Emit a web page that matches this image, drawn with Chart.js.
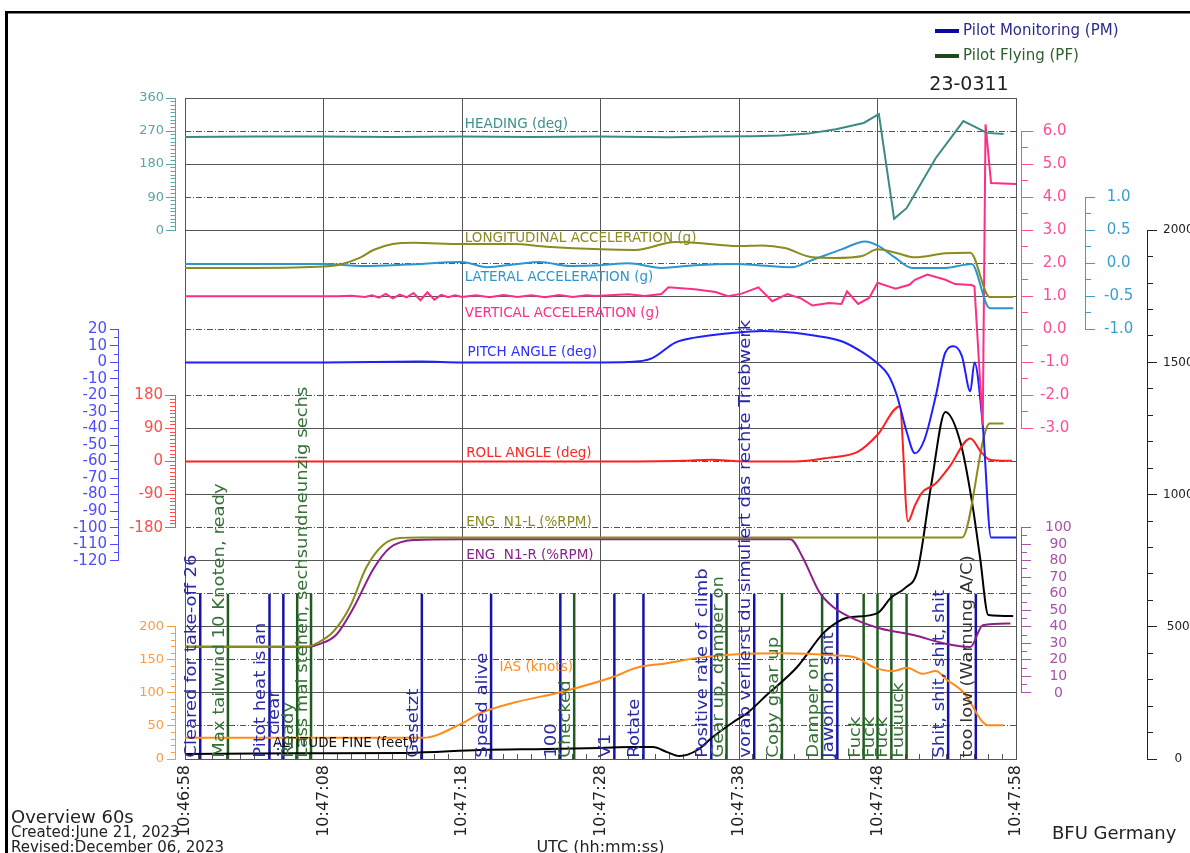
<!DOCTYPE html>
<html>
<head>
<meta charset="utf-8">
<title>Overview 60s - 23-0311</title>
<script src="https://cdn.jsdelivr.net/npm/chart.js@4.4.1/dist/chart.umd.min.js"></script>
<style>
  html, body { margin: 0; padding: 0; background: #fff; }
  #box { width: 1190px; height: 853px; }
</style>
</head>
<body>
<div id="box"><canvas id="flight" width="1190" height="853"></canvas></div>
<script>
const FONT = "'DejaVu Sans', Verdana, sans-serif";

// Time axis, seconds after 10:46:58 UTC
const timeLabels = ['10:46:58', '10:47:08', '10:47:18', '10:47:28', '10:47:38', '10:47:48', '10:47:58'];

// HEADING (deg)
const hdgT = [0, 5, 10, 15, 20, 25, 30, 35, 38, 41, 43, 45, 47, 49, 50.1, 51.2, 52.1, 54.2, 56.2, 57.9, 59.1];
const hdgV = [254, 255, 255, 254, 255, 254, 255, 253, 255, 256, 258, 263, 275, 292, 316, 31, 60, 196, 297, 265, 262];

// LONGITUDINAL ACCELERATION (g)
const lonT = [0, 5, 10, 11.2, 12.6, 13.6, 15, 16.5, 20, 23.7, 26.1, 30, 32.5, 35.4, 36.8, 39.9, 41.7, 43.3, 45.3, 46.9, 48.9, 50, 51.3, 52.7, 54.9, 56.7, 58.1, 59.8];
const lonV = [-0.07, -0.07, -0.05, -0.02, 0.08, 0.2, 0.29, 0.31, 0.29, 0.29, 0.25, 0.21, 0.2, 0.32, 0.31, 0.26, 0.27, 0.23, 0.09, 0.08, 0.11, 0.21, 0.16, 0.09, 0.15, 0.16, -0.51, -0.51];

// LATERAL ACCELERATION (g)
const latT = [0, 10, 12.9, 16, 20, 21.8, 24, 25.6, 27.8, 30, 32, 34.4, 36.8, 39.9, 41.4, 43.8, 45.3, 47.4, 49.1, 50, 51.3, 52.5, 54.9, 56.8, 58.1, 59.8];
const latV = [-0.01, -0.01, -0.04, -0.02, 0.02, -0.06, -0.01, 0.02, -0.04, -0.03, 0.0, -0.07, -0.03, -0.01, -0.03, -0.06, 0.05, 0.21, 0.33, 0.27, 0.08, -0.07, -0.07, -0.01, -0.68, -0.68];

// VERTICAL ACCELERATION (g)
const vacT = [0, 11, 12, 13, 13.5, 14, 14.5, 15, 15.5, 16, 16.5, 17, 17.5, 18, 18.5, 19, 19.5, 20, 21, 22, 23, 24, 25, 26, 27, 28, 29,
  29.6, 32, 33.2, 34.4, 34.9, 36.8, 38.3, 39.2, 40.2, 41.4, 42.4, 43.5, 44.5, 45.3, 46.5, 47.4, 47.8, 48.6, 49.4, 50, 50.8, 51.3,
  52.3, 52.7, 53.6, 54.9, 55.6, 56.8, 57.0, 57.6, 57.8, 58.2, 60];
const vacV = [1.0, 1.0, 1.02, 0.98, 1.03, 0.96, 1.07, 0.94, 1.05, 0.97, 1.1, 0.88, 1.12, 0.9, 1.04, 0.97, 1.03, 0.98, 1.03, 0.97, 1.04, 0.98, 1.03, 0.97, 1.04, 0.98, 1.03,
  1.01, 1.06, 1.01, 1.07, 1.27, 1.21, 1.13, 1.0, 1.08, 1.27, 0.85, 1.07, 0.93, 0.72, 0.8, 0.77, 1.15, 0.77, 0.95, 1.41, 1.3, 1.23,
  1.35, 1.5, 1.66, 1.5, 1.37, 1.34, 1.3, -2.9, 6.2, 4.43, 4.4];

// PITCH ANGLE (deg)
const pitT = [0, 10, 17, 20, 30, 32, 33.7, 35.4, 36.8, 39.7, 41.7, 44, 45.3, 47.4, 48.9, 50, 50.8, 51.4, 52.1, 52.7, 53.4, 54.2, 54.9, 55.5, 56.1, 56.7, 57.0, 57.6, 58.2, 60];
const pitV = [0, 0, 0.5, 0, 0, 0.2, 2.4, 12, 15, 18, 19, 18, 16.4, 12.8, 6.2, -0.6, -8, -20, -41.8, -55, -46.5, -20.6, 6, 9.7, 3.7, -17.5, 0, -38, -106, -106];

// ROLL ANGLE (deg)
const rolT = [0, 10, 20, 30, 36, 38, 40, 44, 46.4, 48.6, 50, 51.6, 52.2, 52.7, 53.2, 54.2, 55.2, 56.7, 57.5, 58.1, 59.7];
const rolV = [0, 0, 0, 0, 2, 5, 1, 0, 10, 27, 73, 150, -163, -120, -85, -60, -14, 63, 25, 5, 2];

// ENG N1-L / N1-R (%RPM)
const n1lT = [0, 8.8, 9.5, 10.7, 11.9, 13.1, 14.3, 15.5, 17, 30, 43, 50, 56.1, 58.1, 59.1];
const n1lV = [28, 28, 30, 37, 52, 76, 89.5, 93.7, 94, 94, 94, 94, 94, 163, 163];
const n1rT = [0, 9.0, 9.7, 10.9, 12.2, 13.6, 14.8, 16.5, 20, 30, 43.7, 44.6, 45.8, 46.8, 48.5, 50.2, 52.6, 55, 56.7, 57.6, 59.6];
const n1rV = [28, 28, 29.5, 35, 52, 75, 87.8, 92.5, 93, 93, 93, 82, 61, 52, 44, 39, 35, 29.6, 27.8, 41, 42];

// IAS (knots)
const iasT = [0, 10, 17.2, 20, 21.3, 23.7, 27.1, 30.9, 32.6, 34.8, 37, 40.1, 43, 46.8, 48.5, 49.7, 51.1, 52.1, 53.3, 54.2, 55, 56.2, 58, 59.1];
const iasV = [32, 32, 32, 54, 69, 85, 101, 124, 138, 145, 153, 159, 160, 157, 153, 139, 133, 138, 129, 133, 120, 101, 51, 51];

// ALTITUDE FINE (feet)
const altT = [0, 8, 16, 21.3, 26.1, 30, 32.3, 33.8, 34.8, 35.7, 37, 38.1, 39.6, 40.6, 42, 44.2, 46.1, 47.1, 47.8, 50, 51, 52, 52.9, 53.9, 54.9, 56, 56.8, 57.4, 58, 59.8];
const altV = [19, 22, 23, 34, 38, 42, 45, 45, 26, 11, 34, 83, 140, 174, 242, 348, 477, 518, 534, 552, 612, 647, 715, 1044, 1312, 1195, 980, 764, 545, 541];

// Cockpit voice callouts
const pmTimes = [1.1, 6.1, 7.1, 17.1, 22.1, 27.1, 31.0, 33.1, 38.0, 41.1, 47.1, 55.1];
const pmTexts = ['Cleared for take-off 26', 'Pitot heat is an', '... clear', 'Gesetzt', 'Speed alive', '100', 'V1', 'Rotate',
  'Positive rate of climb', 'vorab verlierst du simuliert das rechte Triebwerk', 'Jawohl oh shit', 'Shit, shit, shit, shit'];
const pfTimes = [3.1, 8.1, 9.1, 28.1, 39.1, 43.1, 46.0, 49.0, 50.0, 51.0, 52.1];
const pfTexts = ['Max tailwind 10 Knoten, ready', 'Ready', 'Lass mal stehen, sechsundneunzig sechs', 'Checked', 'Gear up, damper on',
  'Copy gear up', 'Damper on', 'Fuck', 'Fuck', 'Fuck', 'Fuuuuck'];
const warnTimes = [57.1];
const warnTexts = ['too low (Warnung A/C)'];

const PM_COLOR = '#1414a8';
const PF_COLOR = '#1f5c1f';

function pts(ts, vs) {
    return ts.map((t, i) => ({ x: t, y: vs[i] }));
}

function series(label, ts, vs, axis, color, smooth) {
    return {
        label: label,
        data: pts(ts, vs),
        yAxisID: axis,
        borderColor: color,
        borderWidth: 2,
        pointRadius: 0,
        fill: false,
        clip: false,
        tension: 0,
        cubicInterpolationMode: smooth ? 'monotone' : 'default'
    };
}

function callout(t, color) {
    // vertical marker from IAS 0 up to the 250 grid line
    return {
        label: 'callout',
        data: [{ x: t, y: 0 }, { x: t, y: 250 }],
        yAxisID: 'ias',
        borderColor: color,
        borderWidth: 2.5,
        pointRadius: 0,
        fill: false,
        clip: false
    };
}

const datasets = [
    series('HEADING', hdgT, hdgV, 'hdg', '#3b8b84', false),
    series('LONGITUDINAL', lonT, lonV, 'lat', '#8b8b1f', true),
    series('LATERAL', latT, latV, 'lat', '#2b97cc', true),
    series('VERTICAL', vacT, vacV, 'vac', '#ff2d84', false),
    series('PITCH', pitT, pitV, 'pit', '#1f1fff', true),
    series('ROLL', rolT, rolV, 'rol', '#ff1f1f', true),
    series('N1-L', n1lT, n1lV, 'n1', '#8b8b1f', true),
    series('N1-R', n1rT, n1rV, 'n1', '#8c1f8c', true),
    series('IAS', iasT, iasV, 'ias', '#ff8c1a', true),
    series('ALTITUDE', altT, altV, 'alt', '#000000', true)
];
pmTimes.forEach(t => datasets.push(callout(t, PM_COLOR)));
pfTimes.forEach(t => datasets.push(callout(t, PF_COLOR)));
warnTimes.forEach(t => datasets.push(callout(t, PM_COLOR)));

/**
 * Blank axis used to reserve space or fill a gap inside a stack
 */
function spacer(pos, width, stack, weight) {
    const o = {
        type: 'linear', axis: 'y', position: pos, display: true,
        ticks: { display: false },
        grid: { display: false, drawTicks: false },
        border: { display: false },
        afterFit: s => { s.width = width; }
    };
    if (stack) {
        o.stack = stack;
        o.stackWeight = weight;
    }
    return o;
}

/**
 * Partial value axis with long major and short minor tick marks
 */
function valueAxis(o) {
    const isMajor = v => Math.abs(v / o.major - Math.round(v / o.major)) < 1e-6;
    const left = o.pos === 'left';
    const h = o.tick / 2;
    return {
        type: 'linear', axis: 'y', position: o.pos,
        stack: o.stack, stackWeight: o.weight,
        min: o.min, max: o.max,
        ticks: {
            stepSize: o.step,
            autoSkip: false,
            color: o.color,
            padding: o.pad,
            crossAlign: left ? 'near' : 'center',
            font: { family: FONT, size: o.size },
            callback: v => isMajor(v) ? (o.dec ? v.toFixed(o.dec) : String(Math.round(v))) : ''
        },
        grid: {
            display: true,
            drawOnChartArea: false,
            drawTicks: true,
            tickLength: o.tick,
            tickWidth: 1,
            tickColor: o.color,
            tickBorderDash: c => isMajor(c.tick.value) ? [] : (left ? [h, h] : [h, o.tick * 2]),
            tickBorderDashOffset: c => isMajor(c.tick.value) ? 0 : (left ? h : 0)
        },
        border: { display: true, color: o.color, width: 1 },
        afterFit: s => { s.width = o.width; }
    };
}

function gridAxis(even, dash) {
    return {
        type: 'linear', axis: 'y', position: 'right', display: true,
        min: 0, max: 20,
        ticks: { display: false, stepSize: 1, autoSkip: false },
        grid: {
            drawOnChartArea: true,
            drawTicks: false,
            lineWidth: 1,
            color: c => (Math.round(c.tick.value) % 2 === 0) === even ? '#555' : 'rgba(0,0,0,0)'
        },
        border: { display: false, dash: dash },
        afterFit: s => { s.width = 0; }
    };
}

const scales = {
    x: {
        type: 'linear', position: 'bottom', min: 0, max: 60,
        ticks: {
            stepSize: 1, autoSkip: false, minRotation: 90, maxRotation: 90, padding: 11,
            color: '#222', font: { family: FONT, size: 16 },
            callback: v => Math.round(v) % 10 === 0 ? timeLabels[Math.round(v) / 10] : ''
        },
        grid: {
            color: c => Math.round(c.tick.value) % 10 === 0 ? '#555' : 'rgba(0,0,0,0)',
            lineWidth: 1, drawTicks: true, tickLength: -5, tickColor: '#555'
        },
        border: { display: true, color: '#555' },
        title: { display: true, text: 'UTC (hh:mm:ss)', color: '#222', padding: { top: 0, bottom: -3 }, font: { family: FONT, size: 16, lineHeight: 1 } },
        afterFit: s => { s.height = 94; }
    },
    // left side, innermost first (stack members listed bottom to top)
    spL: spacer('left', 10),
    ias: valueAxis({ pos: 'left', stack: 'near', weight: 4, min: 0, max: 200, step: 10, major: 50, color: '#ff9a40', size: 13, tick: 8, pad: 3, width: 57 }),
    fN2: spacer('left', 57, 'near', 3),
    rol: valueAxis({ pos: 'left', stack: 'near', weight: 4, min: -180, max: 180, step: 10, major: 90, color: '#ff4d4d', size: 15, tick: 10, pad: 2, width: 57 }),
    fN1: spacer('left', 57, 'near', 5),
    hdg: valueAxis({ pos: 'left', stack: 'near', weight: 4, min: 0, max: 360, step: 10, major: 90, color: '#5fa3a3', size: 13, tick: 9, pad: 2, width: 57 }),
    fP2: spacer('left', 118, 'far', 6),
    pit: valueAxis({ pos: 'left', stack: 'far', weight: 7, min: -120, max: 20, step: 5, major: 10, color: '#4d4dff', size: 15, tick: 8, pad: 3, width: 118 }),
    fP1: spacer('left', 118, 'far', 7),
    // right side, innermost first (stack members listed top to bottom)
    spR: spacer('right', 5),
    fR1: spacer('right', 64, 'r1', 1),
    vac: valueAxis({ pos: 'right', stack: 'r1', weight: 9, min: -3, max: 6, step: 0.5, major: 1, dec: 1, color: '#ff4d94', size: 15, tick: 12, pad: 7, width: 64 }),
    fR2: spacer('right', 64, 'r1', 3),
    n1: valueAxis({ pos: 'right', stack: 'r1', weight: 5, min: 0, max: 100, step: 5, major: 10, color: '#a852a8', size: 14, tick: 10, pad: 14, width: 64 }),
    fR3: spacer('right', 64, 'r1', 2),
    fR4: spacer('right', 62, 'r2', 3),
    lat: valueAxis({ pos: 'right', stack: 'r2', weight: 4, min: -1, max: 1, step: 0.25, major: 0.5, dec: 1, color: '#3a9fcf', size: 15, tick: 10, pad: 9, width: 62 }),
    fR5: spacer('right', 62, 'r2', 13),
    fR6: spacer('right', 43, 'r3', 4),
    alt: valueAxis({ pos: 'right', stack: 'r3', weight: 16, min: 0, max: 2000, step: 100, major: 500, color: '#222', size: 12, tick: 10, pad: 6, width: 43 }),
    gs: gridAxis(true, []),
    gd: gridAxis(false, [6, 2, 1, 2])
};

// Series captions anchored in data units of their own axis
const captions = [
    { text: 'HEADING (deg)', t: 20.2, v: 289, axis: 'hdg', color: '#3f8f8a' },
    { text: 'LONGITUDINAL ACCELERATION (g)', t: 20.2, v: 0.38, axis: 'lat', color: '#8b8b1f' },
    { text: 'LATERAL ACCELERATION (g)', t: 20.2, v: -0.21, axis: 'lat', color: '#2b97cc' },
    { text: 'VERTICAL ACCELERATION (g)', t: 20.2, v: 0.49, axis: 'vac', color: '#ff2d84' },
    { text: 'PITCH ANGLE (deg)', t: 20.4, v: 5.7, axis: 'pit', color: '#2f2fff' },
    { text: 'ROLL ANGLE (deg)', t: 20.3, v: 23, axis: 'rol', color: '#ff2626' },
    { text: 'ENG  N1-L (%RPM)', t: 20.3, v: 103, axis: 'n1', color: '#8b8b1f' },
    { text: 'ENG  N1-R (%RPM)', t: 20.3, v: 83, axis: 'n1', color: '#8c1f8c' },
    { text: 'IAS (knots)', t: 22.7, v: 137.7, axis: 'ias', color: '#ff8c1a' },
    { text: 'ALTITUDE FINE (feet)', t: 6.35, v: 57, axis: 'alt', color: '#111' }
];

function drawCalloutTexts(chart, times, texts, color) {
    const ctx = chart.ctx;
    const xs = chart.scales.x;
    const y0 = chart.scales.ias.getPixelForValue(2);
    ctx.font = '18px ' + FONT;
    ctx.fillStyle = color;
    ctx.textAlign = 'left';
    ctx.textBaseline = 'alphabetic';
    times.forEach((t, i) => {
        ctx.save();
        ctx.translate(xs.getPixelForValue(t) - 4, y0);
        ctx.rotate(-Math.PI / 2);
        ctx.scale(1, 0.9);
        ctx.fillText(texts[i], 0, 0);
        ctx.restore();
    });
}

const overlay = {
    id: 'overlay',
    afterDatasetsDraw(chart) {
        const ctx = chart.ctx;
        const xs = chart.scales.x;
        ctx.save();
        ctx.font = '13.5px ' + FONT;
        ctx.textAlign = 'left';
        ctx.textBaseline = 'middle';
        captions.forEach(c => {
            ctx.fillStyle = c.color;
            ctx.fillText(c.text, xs.getPixelForValue(c.t), chart.scales[c.axis].getPixelForValue(c.v));
        });
        drawCalloutTexts(chart, pmTimes, pmTexts, '#2a2aa6');
        drawCalloutTexts(chart, pfTimes, pfTexts, '#357035');
        drawCalloutTexts(chart, warnTimes, warnTexts, '#333');
        ctx.restore();
    },
    afterDraw(chart) {
        const ctx = chart.ctx;
        ctx.save();
        // outer frame
        ctx.fillStyle = '#000';
        ctx.fillRect(5, 11, 1185, 2.5);
        ctx.fillRect(5, 11, 3, 842);

        // legend
        ctx.fillStyle = '#0a0aa0';
        ctx.fillRect(935, 29, 24, 4);
        ctx.fillStyle = '#1c4a1c';
        ctx.fillRect(935, 54, 24, 4);
        ctx.font = '15px ' + FONT;
        ctx.textBaseline = 'middle';
        ctx.textAlign = 'left';
        ctx.fillStyle = '#2b2b8f';
        ctx.fillText('Pilot Monitoring (PM)', 963, 31);
        ctx.fillStyle = '#2e5e2e';
        ctx.fillText('Pilot Flying (PF)', 963, 56);

        // flight number
        ctx.fillStyle = '#222';
        ctx.font = '19px ' + FONT;
        ctx.textAlign = 'center';
        ctx.fillText('23-0311', 969, 85);

        // footer
        ctx.textAlign = 'left';
        ctx.font = '18px ' + FONT;
        ctx.fillText('Overview 60s', 11, 818);
        ctx.font = '15px ' + FONT;
        ctx.fillText('Created:June 21, 2023', 11, 833);
        ctx.fillText('Revised:December 06, 2023', 11, 848);
        ctx.font = '18px ' + FONT;
        ctx.fillText('BFU Germany', 1052, 834);
        ctx.restore();
    }
};

document.addEventListener('DOMContentLoaded', () => {
    const ctx = document.getElementById('flight').getContext('2d');
    new Chart(ctx, {
        type: 'line',
        data: { datasets: datasets },
        options: {
            responsive: false,
            animation: false,
            layout: { padding: { top: 98, left: 0, right: 0, bottom: 0 } },
            plugins: {
                legend: { display: false },
                title: { display: false },
                tooltip: { enabled: false }
            },
            scales: scales
        },
        plugins: [overlay]
    });
});
</script>
</body>
</html>
